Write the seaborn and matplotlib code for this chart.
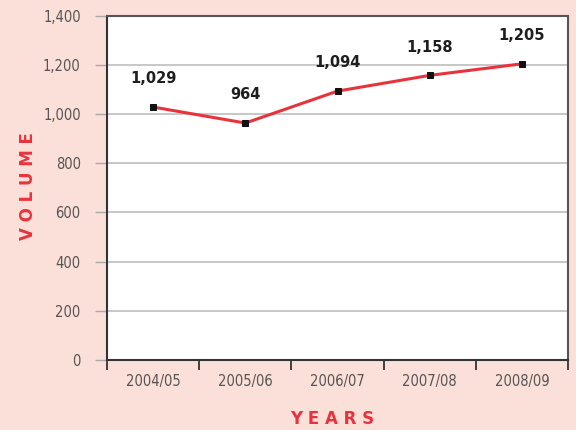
import numpy as np
import pandas as pd
import matplotlib
matplotlib.use("Agg")
import matplotlib.pyplot as plt
import seaborn as sns

years = ['2004/05', '2005/06', '2006/07', '2007/08', '2008/09']
volume = [1029, 964, 1094, 1158, 1205]
y_ticks = [0, 200, 400, 600, 800, 1000, 1200, 1400]

data = pd.DataFrame({'Years': years, 'Volume': volume})

bg = '#FBDFD9'
red = '#E8333C'

sns.set_theme(style="white")
plt.rcParams['font.family'] = ['DejaVu Sans']

fig = plt.figure(figsize=(5.76, 4.30), dpi=100, facecolor=bg)
ax = fig.add_axes([0.186, 0.163, 0.800, 0.800])
ax.set_facecolor('white')

sns.lineplot(data=data, x='Years', y='Volume', sort=False, ax=ax,
             color=red, linewidth=2.2, marker='s', markersize=5,
             markerfacecolor='#111111', markeredgecolor='#111111', zorder=3)

# value labels above the points
for i, v in enumerate(volume):
    ax.annotate(f'{v:,}', (i, v), xytext=(0, 15), textcoords='offset points',
                ha='center', va='bottom', fontsize=10.5, fontweight='bold', color='#1E1E1E')

ax.set_ylim(0, 1400)
ax.set_xlim(-0.5, 4.5)
ax.set_yticks(y_ticks)
ax.set_yticklabels([f'{t:,}' for t in y_ticks])
ax.yaxis.grid(True, color='#BDBDBD', linewidth=1.2)
ax.set_axisbelow(True)

# category boundary ticks on the x axis
ax.set_xticks(range(len(years)))
ax.set_xticklabels(years)
ax.set_xticks(np.arange(-0.5, len(years)), minor=True)
ax.tick_params(axis='x', which='major', length=0, pad=10)
ax.tick_params(axis='x', which='minor', length=7, width=1.3, color='#333333', bottom=True)
ax.tick_params(axis='y', length=9, width=1, color='#AAAAAA', pad=10, left=True)

for lab in ax.get_xticklabels() + ax.get_yticklabels():
    lab.set_family('DejaVu Sans')
    lab.set_stretch('condensed')
    lab.set_fontsize(10.5)
    lab.set_color('#555555')

for side in ['left', 'bottom']:
    ax.spines[side].set_color('#333333')
    ax.spines[side].set_linewidth(1.5)
for side in ['top', 'right']:
    ax.spines[side].set_color('#555555')
    ax.spines[side].set_linewidth(1.5)

ax.set_xlabel('')
ax.set_ylabel('')

fig.text(0.049, 0.567, 'V O L U M E', rotation=90, ha='center', va='center',
         color=red, fontsize=12, fontweight='bold')
fig.text(0.577, 0.026, 'Y E A R S', ha='center', va='center',
         color=red, fontsize=12, fontweight='bold')

fig.savefig('out.png', dpi=100, facecolor=bg)
